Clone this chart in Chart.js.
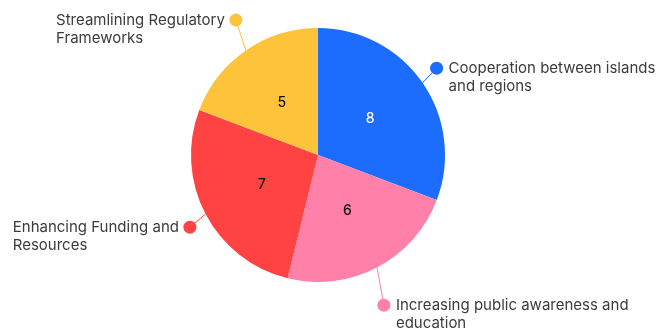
<!DOCTYPE html>
<html>
<head>
<meta charset="utf-8">
<script src="https://cdn.jsdelivr.net/npm/chart.js@4"></script>
<style>
  html, body { margin: 0; padding: 0; background: #fff; }
  #wrap { width: 662px; height: 330px; position: relative; }
</style>
</head>
<body>
<div id="wrap"><canvas id="pie"></canvas></div>
<script>
const categories = [
  ["Cooperation between islands", "and regions"],
  ["Increasing public awareness and", "education"],
  ["Enhancing Funding and", "Resources"],
  ["Streamlining Regulatory", "Frameworks"]
];
const values = [8, 6, 7, 5];
const colors = ["#1c6cfd", "#ff80a9", "#ff4242", "#fdc33a"];
const valueColors = ["#ffffff", "#111111", "#111111", "#111111"];

// label dot placement: distance past the rim, and a small turn (degrees)
const dotOffsets = [20, 37, 20, 31];
const dotTurns = [-1.6, 4, -1.7, 3.3];
const FONT = "Inter, 'Noto Sans', sans-serif";

const labelPlugin = {
  id: "pieLabels",
  afterDatasetsDraw(chart) {
    const ctx = chart.ctx;
    const meta = chart.getDatasetMeta(0);
    meta.data.forEach((arc, i) => {
      const mid = (arc.startAngle + arc.endAngle) / 2;
      const cx = arc.x, cy = arc.y, r = arc.outerRadius;
      const cos = Math.cos(mid), sin = Math.sin(mid);

      // value in the slice
      ctx.save();
      ctx.font = "500 14px " + FONT;
      ctx.fillStyle = valueColors[i];
      ctx.textAlign = "center";
      ctx.textBaseline = "middle";
      ctx.fillText(String(values[i]), cx + cos * r * 0.5, cy + sin * r * 0.5);

      // leader line + dot
      const ex = cx + cos * r, ey = cy + sin * r;
      const a = mid + dotTurns[i] * Math.PI / 180;
      const dx = cx + Math.cos(a) * (r + dotOffsets[i]);
      const dy = cy + Math.sin(a) * (r + dotOffsets[i]);
      ctx.strokeStyle = colors[i];
      ctx.lineWidth = 1;
      ctx.beginPath();
      ctx.moveTo(ex, ey);
      ctx.lineTo(dx, dy);
      ctx.stroke();
      ctx.fillStyle = colors[i];
      ctx.beginPath();
      ctx.arc(dx, dy, 6.5, 0, Math.PI * 2);
      ctx.fill();

      // category text, block left-aligned
      const right = Math.cos(a) >= 0;
      ctx.font = "15px " + FONT;
      ctx.fillStyle = "#3b3b3f";
      ctx.textAlign = "left";
      const widest = Math.max(...categories[i].map((l) => ctx.measureText(l).width));
      const tx = right ? dx + 12 : dx - 11 - widest;
      categories[i].forEach((line, k) => {
        ctx.fillText(line, tx, dy + k * 18);
      });
      ctx.restore();
    });
  }
};

new Chart(document.getElementById("pie"), {
  type: "pie",
  data: {
    labels: categories.map((c) => c.join(" ")),
    datasets: [{
      data: values,
      backgroundColor: colors,
      borderWidth: 0
    }]
  },
  options: {
    responsive: true,
    maintainAspectRatio: false,
    animation: false,
    layout: { padding: { top: 28, bottom: 48, left: 0, right: 26 } },
    plugins: {
      legend: { display: false },
      tooltip: { enabled: false }
    }
  },
  plugins: [labelPlugin]
});
</script>
</body>
</html>
